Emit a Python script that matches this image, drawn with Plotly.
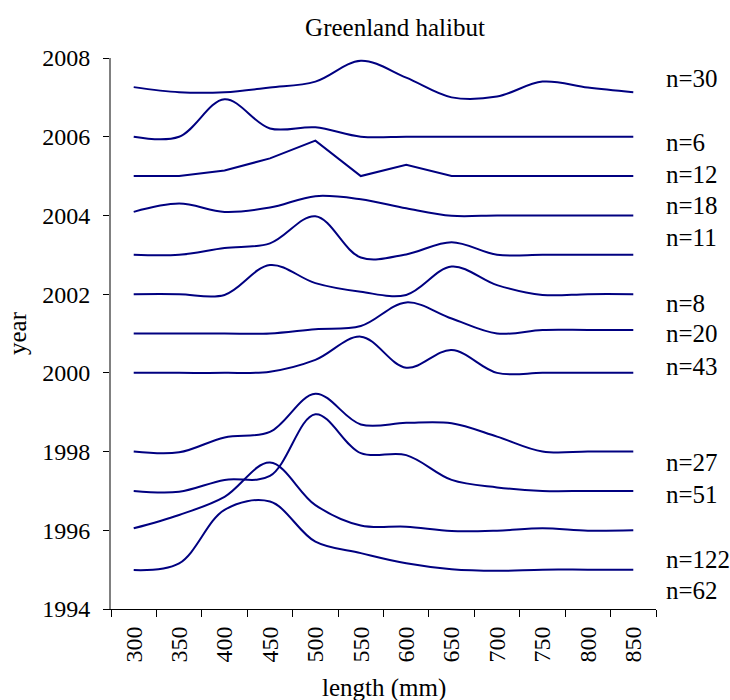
import plotly.graph_objects as go

lengths = ["300", "350", "400", "450", "500", "550", "600", "650", "700", "750", "800", "850"]

y2007 = [2007.26, 2007.13, 2007.13, 2007.25, 2007.40, 2007.93, 2007.50, 2007.00, 2007.02, 2007.40, 2007.25, 2007.13]
y2006 = [2006.00, 2006.00, 2006.95, 2006.21, 2006.24, 2006.00, 2006.00, 2006.00, 2006.00, 2006.00, 2006.00, 2006.00]
y2005 = [2005.00, 2005.00, 2005.14, 2005.45, 2005.90, 2005.00, 2005.29, 2005.00, 2005.00, 2005.00, 2005.00, 2005.00]
y2004 = [2004.09, 2004.30, 2004.09, 2004.20, 2004.49, 2004.41, 2004.18, 2003.99, 2004.00, 2004.00, 2004.00, 2004.00]
y2003 = [2003.00, 2003.00, 2003.17, 2003.29, 2003.98, 2002.93, 2003.01, 2003.32, 2003.00, 2003.00, 2003.00, 2003.00]
y2002 = [2002.00, 2002.00, 2001.98, 2002.74, 2002.28, 2002.06, 2001.98, 2002.70, 2002.23, 2001.98, 2002.00, 2002.00]
y2001 = [2001.00, 2001.00, 2001.00, 2001.00, 2001.11, 2001.19, 2001.79, 2001.38, 2001.00, 2001.09, 2001.09, 2001.09]
y2000 = [2000.00, 2000.00, 2000.00, 2000.03, 2000.33, 2000.92, 2000.13, 2000.58, 2000.00, 2000.00, 2000.00, 2000.00]
y1998 = [1998.00, 1997.98, 1998.36, 1998.50, 1999.47, 1998.69, 1998.73, 1998.72, 1998.38, 1998.00, 1998.00, 1998.00]
y1997 = [1997.00, 1996.98, 1997.28, 1997.38, 1998.95, 1997.96, 1997.91, 1997.28, 1997.09, 1997.00, 1997.00, 1997.00]
y1996 = [1996.05, 1996.39, 1996.85, 1997.72, 1996.64, 1996.12, 1996.09, 1995.98, 1995.99, 1996.05, 1995.99, 1996.00]
y1995 = [1994.99, 1995.16, 1996.52, 1996.73, 1995.71, 1995.42, 1995.16, 1995.01, 1994.97, 1995.00, 1995.00, 1995.00]

series = [y2007, y2006, y2005, y2004, y2003, y2002, y2001, y2000, y1998, y1997, y1996, y1995]
linear_series = [False, False, True, False, False, False, False, False, False, False, False, False]

n_labels = ["n=30", "n=6", "n=12", "n=18", "n=11", "n=8", "n=20", "n=43", "n=27", "n=51", "n=122", "n=62"]
n_label_y = [2007.49, 2005.85, 2005.04, 2004.26, 2003.43, 2001.75, 2000.99, 2000.17, 1997.71, 1996.90, 1995.26, 1994.46]

FONT = "Liberation Serif"
NAVY = "#000080"

fig = go.Figure()
for ys, lin in zip(series, linear_series):
    fig.add_trace(go.Scatter(
        x=lengths, y=ys, mode="lines",
        line=dict(color=NAVY, width=2, shape="linear" if lin else "spline", smoothing=1.0),
        showlegend=False, hoverinfo="skip",
    ))

for txt, yy in zip(n_labels, n_label_y):
    fig.add_annotation(
        x=1.0145, xref="paper", y=yy, yref="y", text=txt, showarrow=False,
        xanchor="left", yanchor="middle",
        font=dict(family=FONT, size=25, color="black"),
    )

# x-axis title placed as annotation below the rotated tick labels
fig.add_annotation(
    x=0.5, xref="paper", y=-(688 - 609) / 551, yref="paper", text="length (mm)",
    showarrow=False, xanchor="center", yanchor="middle",
    font=dict(family=FONT, size=25, color="black"),
)

fig.update_layout(
    width=730, height=700,
    margin=dict(l=111, r=74, t=58, b=91),
    paper_bgcolor="white", plot_bgcolor="white",
    font=dict(family=FONT, size=24, color="black"),
    title=dict(text="Greenland halibut", x=(305 + 485) / 2 / 730, xanchor="center",
               y=1 - 27 / 700, yanchor="middle",
               font=dict(family=FONT, size=25, color="black")),
)

fig.update_xaxes(
    type="category", range=[-0.5, 11.5], tickson="boundaries",
    ticks="outside", ticklen=7, tickcolor="black", tickwidth=1,
    tickangle=-90, showgrid=False, zeroline=False,
    showline=True, linecolor="black", linewidth=1,
    tickfont=dict(family=FONT, size=24, color="black"),
    ticklabelstandoff=7, automargin=False,
)
fig.update_yaxes(
    range=[1994, 2008], dtick=2, tick0=1994,
    ticks="outside", ticklen=6, tickcolor="black", tickwidth=1,
    showgrid=False, zeroline=False,
    showline=True, linecolor="#808080", linewidth=2,
    tickfont=dict(family=FONT, size=24, color="black"),
    ticklabelstandoff=8, automargin=False,
    title=dict(text="year", font=dict(family=FONT, size=25, color="black"), standoff=8),
)

fig.write_html("out.html")
